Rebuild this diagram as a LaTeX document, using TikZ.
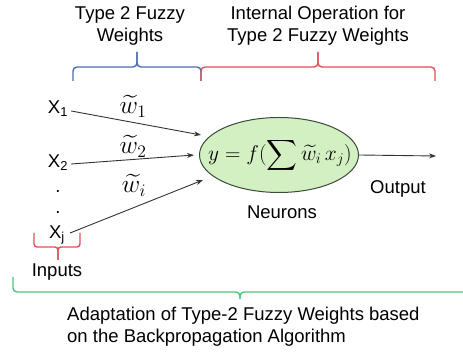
\documentclass[tikz,border=0pt]{standalone}
\usepackage{fontspec}
\setmainfont{Liberation Sans}
\usepackage{amsmath}
\usepackage{graphicx}
\usetikzlibrary{arrows.meta,shapes.geometric}
\definecolor{bblue}{HTML}{4A6BB0}
\definecolor{bred}{HTML}{E04F55}
\definecolor{bgreen}{HTML}{4CC47C}
\definecolor{efill}{HTML}{D3F0C2}
\definecolor{eline}{HTML}{3A4A3A}
\definecolor{arr}{HTML}{333333}
\tikzset{
  lbl/.style={font=\fontsize{18.5}{22}\selectfont, inner sep=0pt, align=center},
  wlbl/.style={font=\fontsize{20}{24}\selectfont, inner sep=0pt},
  bracepath/.style={line width=1.4pt, rounded corners=4pt},
  conn/.style={draw=arr, line width=0.9pt, -{Stealth[length=7pt,width=5pt]}},
}
\begin{document}
\begin{tikzpicture}[x=1pt,y=1pt]
\useasboundingbox (0,0) rectangle (463,352);
% top labels
\node[lbl] (tw) at (130,326) {Type 2 Fuzzy\\Weights};
\node[lbl] (io) at (318,326) {Internal Operation for\\Type 2 Fuzzy Weights};
% braces top
\coordinate (btip) at (137,300);
\coordinate (rtip) at (318,300);
\draw[bracepath, bblue] (73,271) |- (137,285) -- (btip);
\draw[bracepath, bblue] (201,271) |- (137,285) -- (btip);
\draw[bracepath, bred] (201,271) |- (318,285) -- (rtip);
\draw[bracepath, bred] (435,271) |- (318,285) -- (rtip);
% inputs
\node[lbl] (x1) at (58,243) {X\textsubscript{1}};
\node[lbl] (x2) at (58,189) {X\textsubscript{2}};
\node[lbl] (d1) at (58,160) {.};
\node[lbl] (d2) at (58,139) {.};
\node[lbl] (xj) at (57,117) {X\textsubscript{j}};
% neuron
\node[draw=eline, fill=efill, line width=1pt, ellipse, minimum width=159pt, minimum height=75pt, inner sep=0pt] (n) at (279,197) {};
\node[font=\fontsize{20}{24}\selectfont, inner sep=0pt] (eq) at (280,197) {\scalebox{1.03}{$y = f(\displaystyle\sum \widetilde{w}_i\, x_j)$}};
% targets
\coordinate (t1) at (201,217);
\coordinate (t2) at (194,197);
\coordinate (t3) at (203,172);
\coordinate (out) at (436,196);
\draw[conn] (x1.east) ++(3pt,-2pt) coordinate (s1) -- (t1);
\draw[conn] (x2.east) ++(3pt,-1pt) coordinate (s2) -- (t2);
\draw[conn] (xj.east) ++(5pt,2pt) coordinate (s3) -- (t3);
\draw[conn] (n.east) -- (out);
% weight labels
\node[wlbl] (w1) at (133,246) {\scalebox{1.22}{$\widetilde{w}_1$}};
\node[wlbl] (w2) at (133,206) {\scalebox{1.22}{$\widetilde{w}_2$}};
\node[wlbl] (wi) at (134,167) {\scalebox{1.22}{$\widetilde{w}_i$}};
% output / neurons
\node[lbl] (o) at (398,163) {Output};
\node[lbl] (ne) at (282,140) {Neurons};
% inputs brace
\coordinate (itip) at (58,92);
\draw[bracepath, bred, rounded corners=3pt] (34,119) |- (58,105) -- (itip);
\draw[bracepath, bred, rounded corners=3pt] (80,119) |- (58,105) -- (itip);
\node[lbl] (in) at (57,80) {Inputs};
% bottom green brace
\coordinate (gtip) at (240,53);
\draw[bracepath, bgreen] (13,75) |- (240,60) -- (gtip);
\draw[bracepath, bgreen] (480,75) |- (240,60) -- (gtip);
\node[lbl, align=left, anchor=west] (ad) at (67,25) {Adaptation of Type-2 Fuzzy Weights based\\on the Backpropagation Algorithm};
\end{tikzpicture}
\end{document}
